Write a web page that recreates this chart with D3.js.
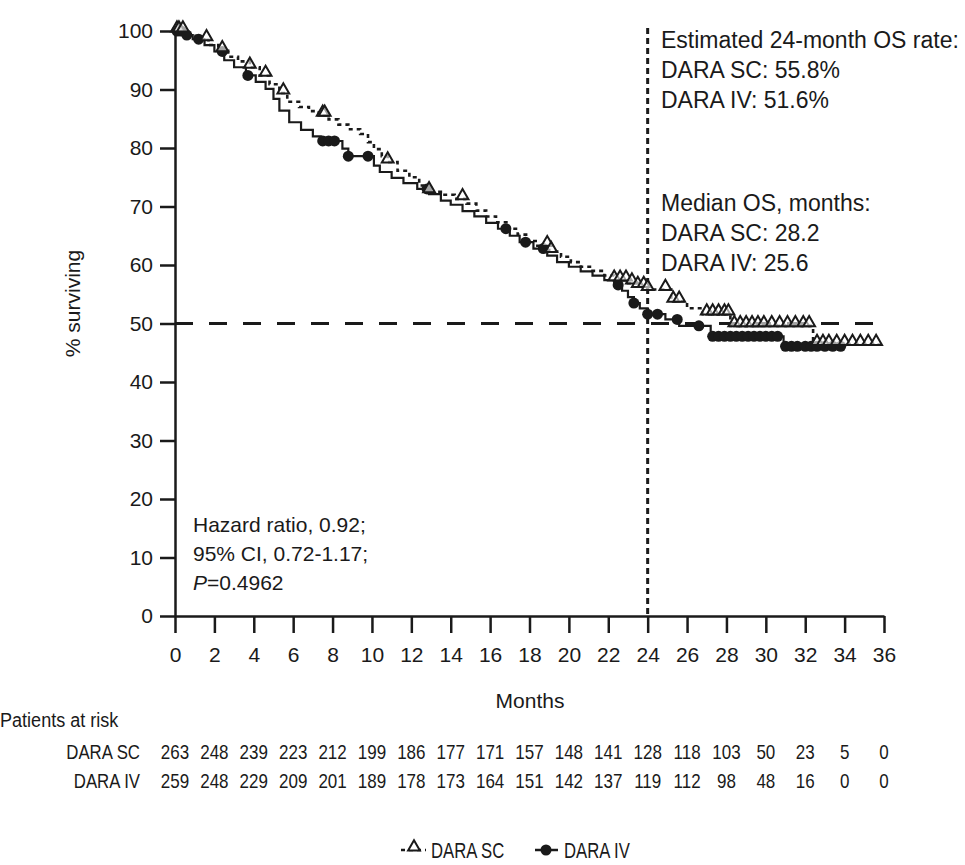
<!DOCTYPE html>
<html>
<head>
<meta charset="utf-8">
<script src="https://cdn.jsdelivr.net/npm/d3@7"></script>
<style>
  html, body { margin: 0; padding: 0; background: #fff; }
  svg { display: block; }
  text { font-family: "Liberation Sans", Arial, sans-serif; fill: #1a1a1a; }
</style>
</head>
<body>
<svg id="chart" width="965" height="865"></svg>
<script>
// Kaplan-Meier overall survival, DARA SC vs DARA IV
const scTimes = [0, 0.6, 1.1, 1.7, 2.2, 2.7, 3.2, 3.8, 4.3, 4.8, 5.3, 5.7, 6.3, 6.8, 7.3, 7.8, 8.3, 8.8, 9.4, 9.8, 10.1, 10.5, 10.8, 11.3, 11.9, 12.4, 12.9, 13.6, 14.2, 14.8, 15.3, 15.8, 16.3, 16.9, 17.4, 17.9, 18.4, 19.0, 19.6, 20.1, 20.6, 21.2, 21.8, 22.3, 23.0, 23.5, 24.0, 25.2, 26.0, 26.8, 28.2, 32.4, 35.8];
const scSurv  = [100, 99.2, 98.5, 97.6, 96.6, 95.6, 94.8, 93.8, 92.4, 90.9, 89.4, 87.9, 87.0, 86.3, 85.6, 84.9, 84.0, 83.2, 82.4, 81.0, 79.8, 78.6, 77.6, 76.1, 75.0, 73.6, 72.5, 72.0, 71.3, 70.5, 69.3, 68.3, 67.3, 66.2, 65.2, 64.1, 63.3, 62.3, 61.4, 60.5, 59.7, 59.0, 58.2, 57.4, 56.9, 56.3, 55.8, 53.8, 52.6, 51.6, 49.6, 46.4, 46.4];
const scCensor = [0.1, 0.2, 0.4, 1.6, 2.4, 3.8, 4.6, 5.5, 7.5, 7.6, 10.8, 12.9, 14.6, 18.9, 19.1, 22.3, 22.6, 22.9, 23.2, 23.5, 23.8, 24.0, 24.9, 25.3, 25.6, 27.0, 27.3, 27.6, 27.9, 28.1, 28.4, 28.7, 29.0, 29.3, 29.6, 29.9, 30.3, 30.7, 31.1, 31.5, 31.9, 32.2, 32.6, 32.9, 33.2, 33.6, 34.0, 34.4, 34.8, 35.2, 35.6];

const ivTimes = [0, 0.4, 0.9, 1.5, 2.0, 2.5, 3.0, 3.6, 4.1, 4.6, 5.0, 5.3, 5.8, 6.4, 7.0, 7.4, 8.5, 8.8, 10.1, 10.4, 11.0, 11.6, 12.3, 12.9, 13.5, 14.0, 14.6, 15.2, 15.8, 16.4, 17.0, 17.5, 18.2, 18.9, 19.4, 20.0, 20.6, 21.2, 21.8, 22.3, 22.7, 23.0, 23.3, 23.6, 24.0, 24.9, 25.6, 27.2, 30.9, 33.8];
const ivSurv  = [100, 99.3, 98.6, 97.6, 96.5, 95.0, 93.8, 92.4, 91.3, 90.1, 88.4, 86.4, 84.4, 83.1, 82.0, 81.2, 79.9, 78.6, 77.0, 75.9, 74.9, 74.0, 73.0, 72.1, 71.0, 70.3, 69.2, 68.3, 67.2, 66.2, 65.0, 63.9, 62.8, 61.6, 60.5, 59.7, 58.9, 58.2, 57.4, 56.6, 55.6, 54.5, 53.5, 52.6, 51.6, 50.7, 49.6, 47.8, 46.1, 46.1];
const ivCensor = [0.1, 0.3, 0.6, 1.2, 2.4, 3.7, 7.5, 7.8, 8.1, 8.8, 9.8, 12.8, 16.8, 17.8, 18.7, 22.5, 23.3, 24.0, 24.5, 25.5, 26.6, 27.3, 27.6, 27.9, 28.2, 28.5, 28.8, 29.1, 29.4, 29.7, 30.0, 30.3, 30.6, 31.0, 31.3, 31.6, 32.0, 32.3, 32.6, 33.0, 33.4, 33.8];

const xTicks = d3.range(0, 37, 2);
const yTicks = d3.range(0, 101, 10);
const riskSC = [263, 248, 239, 223, 212, 199, 186, 177, 171, 157, 148, 141, 128, 118, 103, 50, 23, 5, 0];
const riskIV = [259, 248, 229, 209, 201, 189, 178, 173, 164, 151, 142, 137, 119, 112, 98, 48, 16, 0, 0];

const os24 = { sc: 55.8, iv: 51.6 };
const medianOS = { sc: 28.2, iv: 25.6 };

const svg = d3.select("#chart");
const x = d3.scaleLinear().domain([0, 36]).range([175, 884]);
const y = d3.scaleLinear().domain([0, 100]).range([616, 31]);
const ink = "#1a1a1a";

// reference lines: 50% survival and 24 months
svg.append("line")
  .attr("x1", x(0)).attr("x2", x(36)).attr("y1", y(50)).attr("y2", y(50))
  .attr("stroke", ink).attr("stroke-width", 3).attr("stroke-dasharray", "18,16");
svg.append("line")
  .attr("x1", x(24)).attr("x2", x(24)).attr("y1", y(100) - 3).attr("y2", y(0))
  .attr("stroke", ink).attr("stroke-width", 3).attr("stroke-dasharray", "6,4");

// axes
const yAxis = svg.append("g").attr("transform", `translate(${x(0)},0)`)
  .call(d3.axisLeft(y).tickValues(yTicks).tickSize(15).tickSizeOuter(0).tickPadding(7));
const xAxis = svg.append("g").attr("transform", `translate(0,${y(0)})`)
  .call(d3.axisBottom(x).tickValues(xTicks).tickSize(17).tickSizeOuter(0).tickPadding(14));
[yAxis, xAxis].forEach(g => {
  g.selectAll("path, line").attr("stroke", ink).attr("stroke-width", 2.5);
  g.selectAll("text").attr("font-size", 21).attr("fill", ink)
    .style("font-family", '"Liberation Sans", Arial, sans-serif');
});

svg.append("text").attr("transform", `translate(80,${y(50) - 20}) rotate(-90)`)
  .attr("text-anchor", "middle").attr("font-size", 21).text("% surviving");
svg.append("text").attr("x", 530).attr("y", 708)
  .attr("text-anchor", "middle").attr("font-size", 21).text("Months");

// step curves
const stepLine = d3.line().x(d => x(d[0])).y(d => y(d[1])).curve(d3.curveStepAfter);
const scPts = scTimes.map((t, i) => [t, scSurv[i]]);
const ivPts = ivTimes.map((t, i) => [t, ivSurv[i]]);
const survAt = (times, surv, t) => surv[Math.max(0, d3.bisectRight(times, t) - 1)];

svg.append("path").datum(ivPts).attr("d", stepLine)
  .attr("fill", "none").attr("stroke", ink).attr("stroke-width", 2.2);
svg.append("path").datum(scPts).attr("d", stepLine)
  .attr("fill", "none").attr("stroke", ink).attr("stroke-width", 2.6).attr("stroke-dasharray", "4,4");

const tri = d3.symbol().type(d3.symbolTriangle).size(60);
svg.append("g").selectAll("circle").data(ivCensor).join("circle")
  .attr("cx", t => x(t)).attr("cy", t => y(survAt(ivTimes, ivSurv, t)))
  .attr("r", 5.5).attr("fill", ink);
svg.append("g").selectAll("path").data(scCensor).join("path")
  .attr("d", tri)
  .attr("transform", t => `translate(${x(t)},${y(survAt(scTimes, scSurv, t)) - 3})`)
  .attr("fill", "#fff").attr("fill-opacity", 0.6).attr("stroke", ink).attr("stroke-width", 2);

// annotations
function block(lines, x0, y0, dy) {
  lines.forEach((s, i) => svg.append("text").attr("x", x0).attr("y", y0 + i * dy)
    .attr("font-size", 23).text(s));
}
block(["Estimated 24-month OS rate:", `DARA SC: ${os24.sc}%`, `DARA IV: ${os24.iv}%`], 661, 48, 30);
block(["Median OS, months:", `DARA SC: ${medianOS.sc}`, `DARA IV: ${medianOS.iv}`], 661, 211, 30);

const hr = svg.append("g");
hr.append("text").attr("x", 193).attr("y", 532).attr("font-size", 21).text("Hazard ratio, 0.92;");
hr.append("text").attr("x", 193).attr("y", 561).attr("font-size", 21).text("95% CI, 0.72-1.17;");
const pt = hr.append("text").attr("x", 193).attr("y", 590).attr("font-size", 21);
pt.append("tspan").attr("font-style", "italic").text("P");
pt.append("tspan").text("=0.4962");

// patients at risk table (narrow lettering)
const narrow = (sel, x0, y0, sx) => sel.attr("transform", `translate(${x0},${y0}) scale(${sx},1)`);
narrow(svg.append("text").attr("font-size", 21).text("Patients at risk"), 0, 727, 0.86);
narrow(svg.append("text").attr("text-anchor", "end").attr("font-size", 21).text("DARA SC"), 140, 759, 0.8);
narrow(svg.append("text").attr("text-anchor", "end").attr("font-size", 21).text("DARA IV"), 140, 788, 0.8);
svg.append("g").selectAll("text").data(riskSC).join("text")
  .attr("text-anchor", "middle").attr("font-size", 20).text(d => d)
  .attr("transform", (d, i) => `translate(${x(xTicks[i])},759) scale(0.85,1)`);
svg.append("g").selectAll("text").data(riskIV).join("text")
  .attr("text-anchor", "middle").attr("font-size", 20).text(d => d)
  .attr("transform", (d, i) => `translate(${x(xTicks[i])},788) scale(0.85,1)`);

// legend
const lg = svg.append("g");
lg.append("line").attr("x1", 401).attr("x2", 426).attr("y1", 850).attr("y2", 850)
  .attr("stroke", ink).attr("stroke-width", 2.5).attr("stroke-dasharray", "4,4");
lg.append("path").attr("d", tri).attr("transform", "translate(414,847)")
  .attr("fill", "#fff").attr("stroke", ink).attr("stroke-width", 2);
narrow(lg.append("text").attr("font-size", 22).text("DARA SC"), 431, 858, 0.76);
lg.append("line").attr("x1", 535).attr("x2", 558).attr("y1", 850).attr("y2", 850)
  .attr("stroke", ink).attr("stroke-width", 2.5);
lg.append("circle").attr("cx", 546).attr("cy", 850).attr("r", 5.5).attr("fill", ink);
narrow(lg.append("text").attr("font-size", 22).text("DARA IV"), 564, 858, 0.76);
</script>
</body>
</html>
